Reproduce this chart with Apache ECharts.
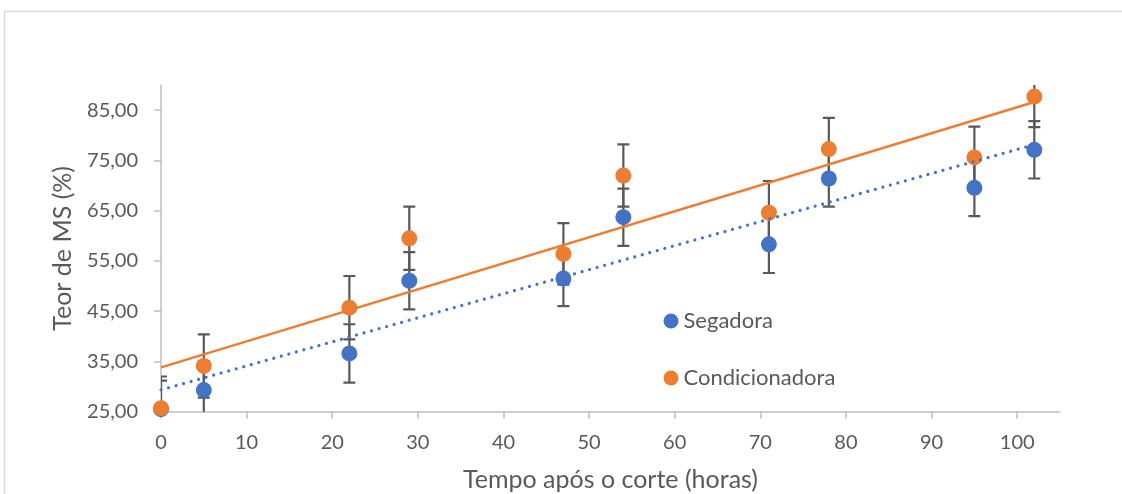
<!DOCTYPE html>
<html>
<head>
<meta charset="utf-8">
<script src="https://cdn.jsdelivr.net/npm/echarts@6/dist/echarts.min.js"></script>
<style>
html,body{margin:0;padding:0;background:#fff;}
#chart{width:1122px;height:494px;}
</style>
</head>
<body>
<div id="chart"></div>
<script>
// ---- data ----
var hours = [0, 5, 22, 29, 47, 54, 71, 78, 95, 102];
var segadora = [25.5, 29.3, 36.6, 51.05, 51.5, 63.7, 58.3, 71.4, 69.55, 77.1];
var segadoraErr = [5.7, 5.7, 5.8, 5.7, 5.5, 5.7, 5.7, 5.6, 5.65, 5.7];
var condicionadora = [25.7, 34.1, 45.7, 59.5, 56.4, 72.0, 64.6, 77.25, 75.6, 87.7];
var condicionadoraErr = [6.3, 6.3, 6.3, 6.3, 6.1, 6.2, 6.3, 6.2, 6.1, 6.1];
var yTicks = [25, 35, 45, 55, 65, 75, 85];
var xTicks = [0, 10, 20, 30, 40, 50, 60, 70, 80, 90, 100];
var seriesNames = ['Segadora', 'Condicionadora'];
var xTitle = 'Tempo após o corte (horas)';
var yTitle = 'Teor de MS (%)';

var BLUE = '#4472C4', ORANGE = '#ED7D31', TXT = '#595959', AX = '#BFBFBF';
var FONT = 'Lato';

function pairs(xs, ys) { return xs.map(function (x, i) { return [x, ys[i]]; }); }
function errData(xs, ys, es) { return xs.map(function (x, i) { return [x, ys[i], es[i]]; }); }
function linFit(xs, ys) {
  var n = xs.length, mx = 0, my = 0;
  for (var i = 0; i < n; i++) { mx += xs[i]; my += ys[i]; }
  mx /= n; my /= n;
  var sxy = 0, sxx = 0;
  for (i = 0; i < n; i++) { sxy += (xs[i] - mx) * (ys[i] - my); sxx += (xs[i] - mx) * (xs[i] - mx); }
  var b = sxy / sxx, a = my - b * mx;
  var x0 = xs[0], x1 = xs[n - 1];
  return [[x0, a + b * x0], [x1, a + b * x1]];
}

function errRender(params, api) {
  var x = api.value(0), y = api.value(1), e = api.value(2);
  var top = api.coord([x, y + e]), bot = api.coord([x, y - e]);
  var hw = 6;
  var st = { stroke: '#595959', lineWidth: 2.2 };
  return {
    type: 'group',
    children: [
      { type: 'line', shape: { x1: top[0], y1: top[1], x2: bot[0], y2: bot[1] }, style: st },
      { type: 'line', shape: { x1: top[0] - hw, y1: top[1], x2: top[0] + hw, y2: top[1] }, style: st },
      { type: 'line', shape: { x1: bot[0] - hw, y1: bot[1], x2: bot[0] + hw, y2: bot[1] }, style: st }
    ]
  };
}

var chart = echarts.init(document.getElementById('chart'), null, { renderer: 'canvas' });
var fmt = function (v) { return v.toFixed(2).replace('.', ','); };

chart.setOption({
  animation: false,
  backgroundColor: '#fff',
  textStyle: { fontFamily: FONT },
  graphic: [{
    type: 'rect', shape: { x: 4.5, y: 11.5, width: 1300, height: 700 },
    style: { fill: 'none', stroke: '#D9D9D9', lineWidth: 1.5 }, silent: true, z: -10
  }],
  grid: { left: 161, right: 62, top: 85, bottom: 82.3, containLabel: false, outerBoundsMode: 'none' },
  legend: {
    orient: 'vertical', left: 663.5, top: 310, itemGap: 35, padding: 0,
    itemWidth: 15, itemHeight: 15, icon: 'circle',
    data: seriesNames,
    textStyle: { color: TXT, fontSize: 22, fontFamily: FONT }
  },
  xAxis: {
    type: 'value', min: 0, max: 105,
    name: xTitle, nameLocation: 'middle', nameGap: 56,
    nameTextStyle: { color: TXT, fontSize: 25, fontFamily: FONT },
    axisLine: { show: true, lineStyle: { color: AX, width: 1.5 } },
    axisTick: { show: true, length: 7, lineStyle: { color: AX, width: 1.5 }, customValues: xTicks },
    axisLabel: { color: TXT, fontSize: 20, fontFamily: FONT, margin: 21, customValues: xTicks },
    splitLine: { show: false }
  },
  yAxis: {
    type: 'value', min: 25, max: 90,
    name: yTitle, nameLocation: 'middle', nameGap: 86,
    nameTextStyle: { color: TXT, fontSize: 25, fontFamily: FONT },
    axisLine: { show: true, lineStyle: { color: AX, width: 1.5 } },
    axisTick: { show: true, length: 7, lineStyle: { color: AX, width: 1.5 }, customValues: yTicks },
    axisLabel: { color: TXT, fontSize: 20, fontFamily: FONT, margin: 23, customValues: yTicks, formatter: fmt },
    splitLine: { show: false }
  },
  series: [
    { type: 'custom', name: 'errSeg', renderItem: errRender, data: errData(hours, segadora, segadoraErr), clip: true, z: 2, silent: true },
    { type: 'custom', name: 'errCond', renderItem: errRender, data: errData(hours, condicionadora, condicionadoraErr), clip: true, z: 2, silent: true },
    { type: 'scatter', name: seriesNames[0], data: pairs(hours, segadora), symbolSize: 16, itemStyle: { color: BLUE, opacity: 1 }, z: 3 },
    { type: 'scatter', name: seriesNames[1], data: pairs(hours, condicionadora), symbolSize: 16, itemStyle: { color: ORANGE, opacity: 1 }, z: 4 },
    { type: 'line', name: 'trendCond', data: linFit(hours, condicionadora), showSymbol: false, symbol: 'none',
      lineStyle: { color: ORANGE, width: 2.5 }, z: 5, silent: true },
    { type: 'line', name: 'trendSeg', data: linFit(hours, segadora), showSymbol: false, symbol: 'none',
      lineStyle: { color: BLUE, width: 3.2, type: [0.01, 7.8], cap: 'round' }, z: 6, silent: true }
  ]
});
</script>
</body>
</html>
